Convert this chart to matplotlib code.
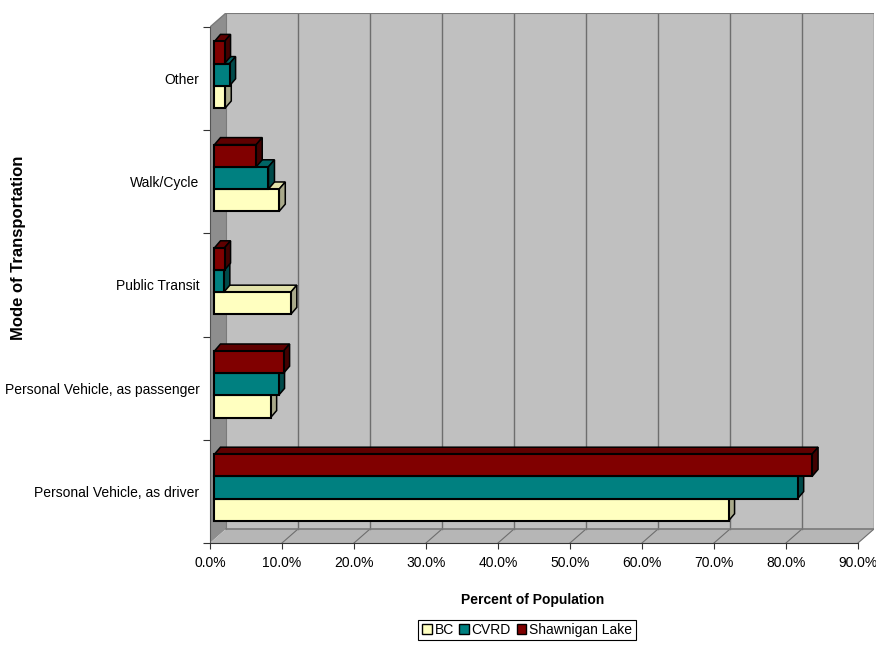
import matplotlib.pyplot as plt
from matplotlib.patches import Polygon, Rectangle, Patch

plt.rcParams['font.family'] = ['Liberation Sans', 'DejaVu Sans']

# data (bottom to top on the chart)
categories = ['Personal Vehicle, as driver', 'Personal Vehicle, as passenger',
              'Public Transit', 'Walk/Cycle', 'Other']
series = ['BC', 'CVRD', 'Shawnigan Lake']
bc = [71.4, 7.8, 10.6, 9.0, 1.5]
cvrd = [81.0, 8.9, 1.3, 7.5, 2.1]
shawnigan = [83.0, 9.6, 1.4, 5.8, 1.4]
x_ticks = [0, 10, 20, 30, 40, 50, 60, 70, 80, 90]

front_colors = ['#FFFFC0', '#008080', '#800000']
top_colors = ['#E2E2AA', '#006464', '#5E0000']
side_colors = ['#A9A98A', '#004A4A', '#420000']

fig = plt.figure(figsize=(8.76, 6.45), dpi=100)
ax = fig.add_axes([210 / 876, 102 / 645, 664 / 876, 530 / 645])

# depth of the 3d box, in data units
DX, DY = 16 / 7.2, 14 / 103.2
xmax = x_ticks[-1]
nc = len(categories)
ax.set_xlim(0, xmax + DX)
ax.set_ylim(0, nc + DY)

# walls and floor
ax.add_patch(Rectangle((DX, DY), xmax, nc, fc='#C0C0C0', ec='none', zorder=0))
ax.add_patch(Polygon([(0, 0), (DX, DY), (DX, nc + DY), (0, nc)],
                     fc='#8E8E8E', ec='none', zorder=0))
ax.add_patch(Polygon([(0, 0), (xmax, 0), (xmax + DX, DY), (DX, DY)],
                     fc='#B6B6B6', ec='none', zorder=0))
for t in x_ticks[1:]:
    ax.plot([t + DX, t + DX], [DY, nc + DY], color='#6E6E6E', lw=1, zorder=1)
    ax.plot([t, t + DX], [0, DY], color='#6E6E6E', lw=0.8, zorder=1)
ax.plot([DX, xmax + DX], [nc + DY, nc + DY], color='#7A7A7A', lw=1.5, zorder=1)
ax.plot([DX, xmax + DX], [DY, DY], color='#7A7A7A', lw=1.2, zorder=1)
ax.plot([0, DX], [nc, nc + DY], color='#7A7A7A', lw=1, zorder=1)
ax.plot([DX, DX], [DY, nc + DY], color='#7A7A7A', lw=0.8, zorder=1)

# 3d bars
values = [bc, cvrd, shawnigan]
h = 0.215
f0 = 0.28
bdx, bdy = 6 / 7.2, 7 / 103.2
z = 2
for i in range(nc):
    for j, vals in enumerate(values):
        v = vals[i]
        x0 = f0 * DX
        x1 = x0 + v
        y0 = i + 0.5 - 1.5 * h + j * h + f0 * DY
        ax.add_patch(Polygon([(x0, y0 + h), (x1, y0 + h), (x1 + bdx, y0 + h + bdy),
                              (x0 + bdx, y0 + h + bdy)],
                             fc=top_colors[j], ec='black', lw=1.1, zorder=z))
        ax.add_patch(Polygon([(x1, y0), (x1 + bdx, y0 + bdy), (x1 + bdx, y0 + h + bdy),
                              (x1, y0 + h)],
                             fc=side_colors[j], ec='black', lw=1.1, zorder=z))
        ax.add_patch(Rectangle((x0, y0), v, h, fc=front_colors[j], ec='black',
                               lw=1.5, zorder=z + 1))
        z += 2

# axes
for s in ['top', 'right']:
    ax.spines[s].set_visible(False)
ax.spines['bottom'].set_bounds(0, xmax)
ax.spines['bottom'].set_color('#333333')
ax.spines['left'].set_bounds(0, nc)
ax.spines['left'].set_color('#555555')
ax.set_xticks(x_ticks)
ax.set_xticklabels([f'{t:.1f}%' for t in x_ticks])
ax.tick_params(axis='x', length=4.5, color='#333333', pad=5, labelsize=10)
ax.set_yticks(range(nc + 1))
ax.set_yticklabels([])
ax.set_yticks([i + 0.5 for i in range(nc)], minor=True)
ax.set_yticklabels(categories, minor=True)
ax.tick_params(axis='y', which='major', length=5, color='#333333')
ax.tick_params(axis='y', which='minor', length=0, pad=7.5, labelsize=10)

fig.text(533 / 876, 1 - 600 / 645, 'Percent of Population', ha='center',
         va='center', fontsize=10, fontweight='bold')
fig.text(19 / 876, 1 - 248 / 645, 'Mode of Transportation', ha='center',
         va='center', rotation=90, fontsize=12, fontweight='bold')

handles = [Patch(fc=c, ec='black', lw=1) for c in front_colors]
leg = fig.legend(handles, series, loc='center', bbox_to_anchor=(527 / 876, 1 - 630 / 645),
                 ncol=3, fontsize=10, frameon=True, fancybox=False, edgecolor='black',
                 framealpha=1, handlelength=0.7, handleheight=0.7, handletextpad=0.2,
                 columnspacing=0.4, borderpad=0.25, borderaxespad=0)
leg.get_frame().set_linewidth(0.8)

fig.savefig('out.png', dpi=100)
